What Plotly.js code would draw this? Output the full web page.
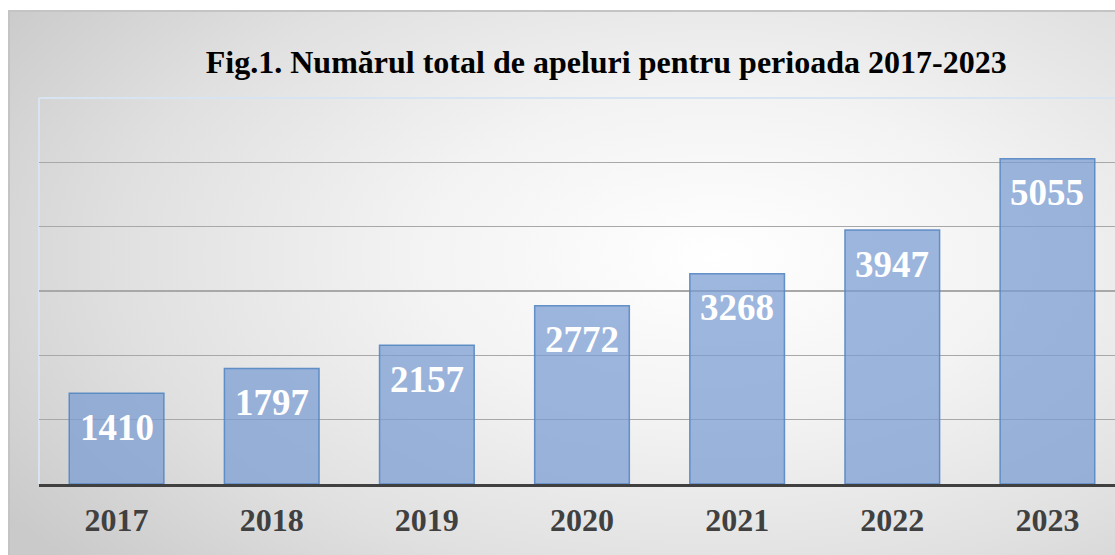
<!DOCTYPE html>
<html>
<head>
<meta charset="utf-8">
<script src="https://cdn.plot.ly/plotly-3.0.1.min.js"></script>
<style>
  html, body { margin: 0; padding: 0; background: #ffffff; overflow: hidden; width: 1115px; height: 555px; }
  #chart {
    position: absolute; left: 8px; top: 10px; width: 1140px; height: 547px;
    border-top: 2px solid #c4c4c4; border-left: 2px solid #c4c4c4; box-sizing: border-box;
    background: radial-gradient(ellipse 75% 85% at 62% 45%, #ffffff 0%, #f3f3f3 35%, #e0e0e0 70%, #cacaca 100%);
  }
</style>
</head>
<body>
<div id="chart"></div>
<script>
const years = ['2017', '2018', '2019', '2020', '2021', '2022', '2023'];
const calls = [1410, 1797, 2157, 2772, 3268, 3947, 5055];
const titleText = 'Fig.1. Numărul total de apeluri pentru perioada 2017-2023';

const serif = '"Liberation Serif", "Times New Roman", serif';

const trace = {
  type: 'bar',
  x: years,
  y: calls,
  marker: {
    color: 'rgba(120,155,210,0.72)',
    line: { color: 'rgba(85,135,195,0.9)', width: 1.5 }
  },
  hoverinfo: 'skip'
};

const annotations = years.map((yr, i) => ({
  x: i, y: calls[i], xref: 'x', yref: 'y',
  text: String(calls[i]), showarrow: false,
  yanchor: 'middle', yshift: -34,
  font: { family: serif, size: 37, color: '#ffffff', weight: 'bold' }
}));

const layout = {
  width: 1140, height: 545,
  margin: { l: 29, r: 25, t: 86, b: 73 },
  paper_bgcolor: 'rgba(0,0,0,0)',
  plot_bgcolor: 'rgba(0,0,0,0)',
  bargap: 0.39,
  showlegend: false,
  title: {
    text: '<b>' + titleText + '</b>',
    font: { family: serif, size: 32, color: '#000000' },
    xref: 'container', x: 0.523, xanchor: 'center',
    yref: 'container', y: 1 - 50 / 545, yanchor: 'middle'
  },
  xaxis: {
    type: 'category',
    range: [-0.5, years.length - 0.5], autorange: false,
    showline: true, linecolor: '#404040', linewidth: 3,
    showgrid: false, zeroline: false, ticks: '',
    ticklabelstandoff: 6,
    tickfont: { family: serif, size: 32, color: '#404040', weight: 'bold' }
  },
  yaxis: {
    range: [0, 6000], autorange: false, dtick: 1000,
    showticklabels: false, ticks: '',
    showgrid: true, gridcolor: '#a8a8a8', gridwidth: 1.3,
    zeroline: false, showline: false
  },
  shapes: [
    { type: 'line', xref: 'paper', yref: 'paper', x0: 0, x1: 1, y0: 1, y1: 1,
      line: { color: '#d8e4f2', width: 2 }, layer: 'above' },
    { type: 'line', xref: 'paper', yref: 'paper', x0: 0, x1: 0, y0: 0, y1: 1,
      line: { color: '#d8e4f2', width: 2 }, layer: 'below' }
  ],
  annotations: annotations
};

Plotly.newPlot('chart', [trace], layout, { displayModeBar: false, staticPlot: true });
</script>
</body>
</html>
